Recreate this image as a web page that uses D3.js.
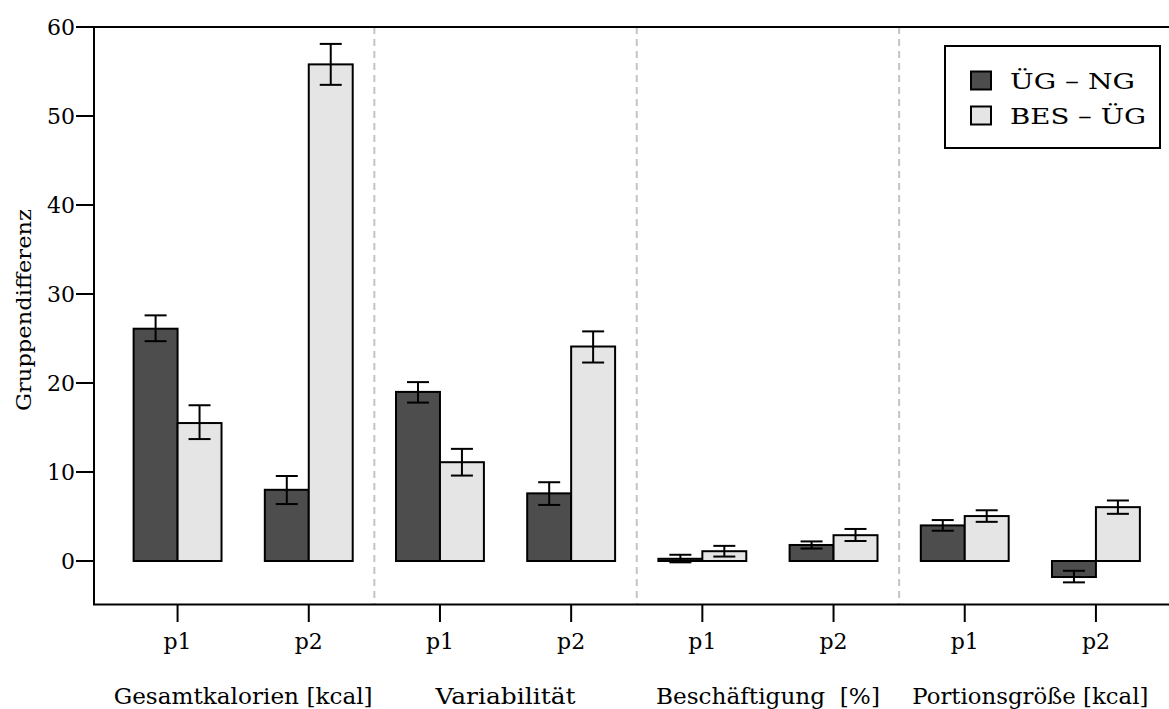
<!DOCTYPE html>
<html>
<head>
<meta charset="utf-8">
<script src="https://cdn.jsdelivr.net/npm/d3@7.9.0/dist/d3.min.js"></script>
<style>
  body { margin: 0; background: #fff; }
</style>
</head>
<body>
<svg id="chart" width="1169" height="709"></svg>
<script>
const categories = ['Gesamtkalorien [kcal]', 'Variabilität', 'Beschäftigung\u00a0 [%]', 'Portionsgröße [kcal]'];
const phases = ['p1', 'p2'];
const seriesNames = ['ÜG – NG', 'BES – ÜG'];
const yTicks = [0, 10, 20, 30, 40, 50, 60];

// one value per category x phase (p1, p2, p1, p2, ...)
const ugNg = [26.1, 8.0, 19.0, 7.6, 0.25, 1.8, 4.0, -1.8];
const ugNgLow = [24.7, 6.4, 17.8, 6.3, -0.15, 1.4, 3.4, -2.4];
const ugNgHigh = [27.6, 9.55, 20.1, 8.85, 0.7, 2.2, 4.6, -1.1];
const besUg = [15.5, 55.8, 11.1, 24.1, 1.1, 2.9, 5.05, 6.05];
const besUgLow = [13.7, 53.5, 9.6, 22.3, 0.5, 2.25, 4.4, 5.3];
const besUgHigh = [17.5, 58.1, 12.6, 25.8, 1.7, 3.6, 5.7, 6.8];

const colors = ['#4d4d4d', '#e5e5e5'];
const font = "'DejaVu Serif', serif";

const svg = d3.select('#chart');

const x = d3.scaleLinear().domain([-0.637, 7.637]).range([94, 1179.5]);
const y = d3.scaleLinear().domain([0, 60]).range([561, 27]);
const yBottom = 604.5;
const barW = 0.335;

const slots = categories.flatMap((c, ci) => phases.map((p, pi) => ({ cat: c, phase: p, i: ci * 2 + pi })));

// group separators
[1.5, 3.5, 5.5].forEach(s => {
  svg.append('line')
    .attr('x1', x(s)).attr('x2', x(s))
    .attr('y1', y(60)).attr('y2', yBottom)
    .attr('stroke', '#c4c4c4').attr('stroke-width', 2)
    .attr('stroke-dasharray', '7,5');
});

const series = [
  { vals: ugNg, lo: ugNgLow, hi: ugNgHigh, off: -barW },
  { vals: besUg, lo: besUgLow, hi: besUgHigh, off: 0 }
];

series.forEach((s, si) => {
  const g = svg.append('g');
  g.selectAll('rect').data(slots).join('rect')
    .attr('x', d => x(d.i + s.off))
    .attr('width', x(barW) - x(0))
    .attr('y', d => y(Math.max(0, s.vals[d.i])))
    .attr('height', d => Math.abs(y(s.vals[d.i]) - y(0)))
    .attr('fill', colors[si])
    .attr('stroke', '#000').attr('stroke-width', 2);
});

series.forEach(s => {
  const g = svg.append('g').attr('stroke', '#000').attr('stroke-width', 2);
  slots.forEach(d => {
    const cx = x(d.i + s.off + barW / 2);
    g.append('line').attr('x1', cx).attr('x2', cx).attr('y1', y(s.lo[d.i])).attr('y2', y(s.hi[d.i]));
    g.append('line').attr('x1', cx - 11).attr('x2', cx + 11).attr('y1', y(s.lo[d.i])).attr('y2', y(s.lo[d.i]));
    g.append('line').attr('x1', cx - 11).attr('x2', cx + 11).attr('y1', y(s.hi[d.i])).attr('y2', y(s.hi[d.i]));
  });
});

// frame: top, left, bottom
svg.append('path')
  .attr('d', `M1169,${y(60)}H${x.range()[0]}V${yBottom}H1169`)
  .attr('fill', 'none').attr('stroke', '#000').attr('stroke-width', 2);

// y axis
const yAxis = svg.append('g');
yTicks.forEach(t => {
  yAxis.append('line').attr('x1', 76).attr('x2', 94).attr('y1', y(t)).attr('y2', y(t))
    .attr('stroke', '#000').attr('stroke-width', 2);
  yAxis.append('text').attr('x', 75).attr('y', y(t)).attr('dy', '0.35em')
    .attr('text-anchor', 'end').attr('font-family', font).attr('font-size', 22).text(t);
});

svg.append('text')
  .attr('transform', `translate(31,310) rotate(-90)`)
  .attr('text-anchor', 'middle').attr('font-family', font).attr('font-size', 20)
  .attr('textLength', 202).attr('lengthAdjust', 'spacingAndGlyphs')
  .text('Gruppendifferenz');

// x axis
slots.forEach(d => {
  svg.append('line').attr('x1', x(d.i)).attr('x2', x(d.i)).attr('y1', yBottom).attr('y2', 622)
    .attr('stroke', '#000').attr('stroke-width', 2);
  svg.append('text').attr('x', x(d.i)).attr('y', 649)
    .attr('text-anchor', 'middle').attr('font-family', font).attr('font-size', 22).text(d.phase);
});

const catWidths = [259, 140, 224, 236];
categories.forEach((c, ci) => {
  svg.append('text').attr('x', x(ci * 2 + 0.5)).attr('y', 704)
    .attr('text-anchor', 'middle').attr('font-family', font).attr('font-size', 22)
    .attr('textLength', catWidths[ci]).attr('lengthAdjust', 'spacingAndGlyphs')
    .style('white-space', 'pre').text(c);
});

// legend
const legendWidths = [125, 136];
const legend = svg.append('g');
legend.append('rect').attr('x', 945).attr('y', 46).attr('width', 215).attr('height', 102)
  .attr('fill', '#fff').attr('stroke', '#000').attr('stroke-width', 2);
seriesNames.forEach((n, i) => {
  const cy = 80.5 + i * 35;
  legend.append('rect').attr('x', 971).attr('y', cy - 9).attr('width', 20).attr('height', 18)
    .attr('fill', colors[i]).attr('stroke', '#000').attr('stroke-width', 2);
  legend.append('text').attr('x', 1010).attr('y', cy).attr('dy', '0.35em')
    .attr('font-family', font).attr('font-size', 23)
    .attr('textLength', legendWidths[i]).attr('lengthAdjust', 'spacingAndGlyphs')
    .text(n);
});
</script>
</body>
</html>
